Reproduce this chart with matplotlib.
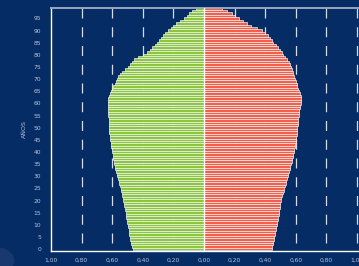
import numpy as np
import matplotlib
matplotlib.use("Agg")
import matplotlib.pyplot as plt
from matplotlib.patches import Circle

# edades 0..100, porcentaje de la poblacion por edad
edades = np.arange(0, 101)

hombres = [
    0.466, 0.470, 0.474, 0.477, 0.481,
    0.484, 0.487, 0.490, 0.493, 0.496,
    0.499, 0.502, 0.504, 0.507, 0.510,
    0.512, 0.515, 0.518, 0.521, 0.524,
    0.527, 0.531, 0.534, 0.538, 0.541,
    0.545, 0.549, 0.554, 0.558, 0.563,
    0.567, 0.571, 0.575, 0.579, 0.582,
    0.586, 0.589, 0.592, 0.595, 0.598,
    0.601, 0.603, 0.605, 0.607, 0.610,
    0.612, 0.614, 0.616, 0.618, 0.620,
    0.621, 0.622, 0.623, 0.624, 0.624,
    0.625, 0.626, 0.627, 0.628, 0.628,
    0.629, 0.630, 0.630, 0.624, 0.616,
    0.608, 0.600, 0.592, 0.584, 0.577,
    0.570, 0.560, 0.550, 0.535, 0.518,
    0.499, 0.486, 0.473, 0.460, 0.430,
    0.400, 0.375, 0.350, 0.337, 0.323,
    0.310, 0.297, 0.284, 0.270, 0.252,
    0.235, 0.218, 0.200, 0.180, 0.155,
    0.130, 0.113, 0.098, 0.080, 0.050,
    0.040,
]

mujeres = [
    0.442, 0.446, 0.449, 0.453, 0.456,
    0.460, 0.463, 0.466, 0.469, 0.472,
    0.475, 0.478, 0.481, 0.484, 0.487,
    0.490, 0.492, 0.494, 0.497, 0.499,
    0.501, 0.506, 0.511, 0.516, 0.520,
    0.525, 0.529, 0.534, 0.538, 0.543,
    0.547, 0.551, 0.556, 0.560, 0.565,
    0.569, 0.572, 0.576, 0.579, 0.583,
    0.586, 0.589, 0.592, 0.595, 0.598,
    0.601, 0.603, 0.605, 0.606, 0.608,
    0.610, 0.612, 0.614, 0.615, 0.617,
    0.619, 0.621, 0.624, 0.627, 0.629,
    0.632, 0.634, 0.636, 0.631, 0.626,
    0.621, 0.616, 0.611, 0.605, 0.600,
    0.595, 0.590, 0.584, 0.579, 0.574,
    0.569, 0.561, 0.553, 0.545, 0.532,
    0.518, 0.508, 0.497, 0.482, 0.468,
    0.453, 0.442, 0.431, 0.420, 0.398,
    0.377, 0.344, 0.310, 0.283, 0.255,
    0.230, 0.200, 0.180, 0.150, 0.115,
    0.105,
]

xticks = [-1.0, -0.8, -0.6, -0.4, -0.2, 0.0, 0.2, 0.4, 0.6, 0.8, 1.0]
xtick_labels = ["1,00", "0,80", "0,60", "0,40", "0,20", "0,00",
                "0,20", "0,40", "0,60", "0,80", "1,00"]
yticks = list(range(0, 100, 5))

fondo = "#062c66"
verde = "#8cc63f"
rojo = "#f2604c"
texto = "#b9c3d6"

fig = plt.figure(figsize=(3.59, 2.66), dpi=100, facecolor=fondo)
fig.patches.append(Circle((-0.01, 0.02), 0.05, transform=fig.transFigure,
                          facecolor="#17396f", edgecolor="none", zorder=0))

ax = fig.add_axes([51 / 359, 1 - 251 / 266, 308 / 359, 243 / 266])
ax.set_facecolor(fondo)

ax.barh(edades, -np.array(hombres), height=1.0, color=verde,
        edgecolor="white", linewidth=0.45, zorder=2)
ax.barh(edades, mujeres, height=1.0, color=rojo,
        edgecolor="white", linewidth=0.45, zorder=2)

ymin, ymax = -0.8, 99.3
ax.set_xlim(-1.0, 1.013)
ax.set_ylim(ymin, ymax)

# lineas de guia discontinuas (empiezan desde arriba)
for xv in [-0.8, -0.6, -0.4, -0.2, 0.2, 0.4, 0.6, 0.8, 1.0]:
    ax.plot([xv, xv], [ymax, ymin], color="#d5dbe7", linewidth=0.9,
            dashes=(8, 7), zorder=1)
ax.plot([0, 0], [ymin, ymax], color="white", linewidth=1.0, zorder=3)

ax.set_xticks(xticks)
ax.set_xticklabels(xtick_labels)
ax.set_yticks(yticks)
ax.tick_params(length=0, labelsize=4.3, colors=texto, pad=5)
ax.tick_params(axis="y", pad=7)

ax.set_ylabel("AÑOS", color=texto, fontsize=4.5, labelpad=5)

for s in ["left", "bottom"]:
    ax.spines[s].set_color("white")
    ax.spines[s].set_linewidth(1.0)
ax.spines["top"].set_color("#9aa6c0")
ax.spines["top"].set_linewidth(1.4)
ax.spines["right"].set_visible(False)

fig.savefig("out.png", dpi=100, facecolor=fondo)
